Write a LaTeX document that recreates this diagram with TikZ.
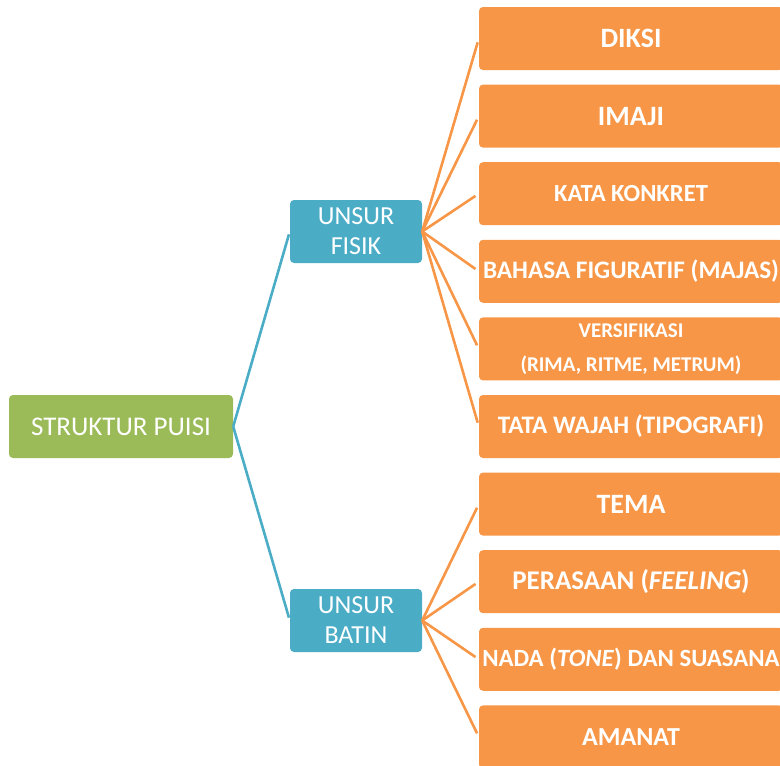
\documentclass[tikz,border=0pt]{standalone}
\usepackage{fontspec}
\setmainfont{Carlito}
\definecolor{cgreen}{HTML}{9BBB59}
\definecolor{cblue}{HTML}{4BACC6}
\definecolor{corange}{HTML}{F79646}
\begin{document}
\begin{tikzpicture}[x=1pt,y=-1pt,
  base/.style={rounded corners=4pt, text=white, inner sep=0pt, align=center, minimum height=63pt},
  rootbox/.style={base, fill=cgreen, minimum width=224pt, font=\fontsize{27}{30}\selectfont},
  midbox/.style={base, fill=cblue, minimum width=132pt, font=\fontsize{26}{30}\selectfont},
  leafbox/.style={base, fill=corange, minimum width=304pt, font=\bfseries\fontsize{28}{30}\selectfont},
  bline/.style={draw=cblue, line width=2.6pt, shorten >=3pt},
  oline/.style={draw=corange, line width=2.6pt, shorten >=4pt}]
\useasboundingbox (0,0) rectangle (780,766);
\node[rootbox] (root) at (121,426.5) {STRUKTUR PUISI};
\node[midbox] (fisik) at (356,231.5) {UNSUR\\FISIK};
\node[midbox] (batin) at (356,620.5) {UNSUR\\BATIN};
\node[leafbox] (l1) at (631,38.5) {DIKSI};
\node[leafbox] (l2) at (631,116.1) {IMAJI};
\node[leafbox, font=\bfseries\fontsize{24.6}{30}\selectfont] (l3) at (631,193.7) {KATA KONKRET};
\node[leafbox, font=\bfseries\fontsize{25.2}{30}\selectfont] (l4) at (631,271.3) {BAHASA FIGURATIF (MAJAS)};
\node[leafbox, font=\bfseries\fontsize{21}{34}\selectfont] (l5) at (631,348.9) {VERSIFIKASI\\(RIMA, RITME, METRUM)};
\node[leafbox, font=\bfseries\fontsize{25.2}{30}\selectfont] (l6) at (631,426.5) {TATA WAJAH (TIPOGRAFI)};
\node[leafbox] (l7) at (631,504.1) {TEMA};
\node[leafbox, font=\bfseries\fontsize{27}{30}\selectfont] (l8) at (631,581.7) {PERASAAN (\textit{FEELING})};
\node[leafbox, font=\bfseries\fontsize{24.8}{30}\selectfont] (l9) at (631,659.3) {NADA (\textit{TONE}) DAN SUASANA};
\node[leafbox, font=\bfseries\fontsize{26}{30}\selectfont] (l10) at (631,736.9) {AMANAT};
\draw[bline] (root.east) -- (fisik.west);
\draw[bline] (root.east) -- (batin.west);
\foreach \i in {1,...,6} \draw[oline] (fisik.east) -- (l\i.west);
\foreach \i in {7,...,10} \draw[oline] (batin.east) -- (l\i.west);
\end{tikzpicture}
\end{document}
